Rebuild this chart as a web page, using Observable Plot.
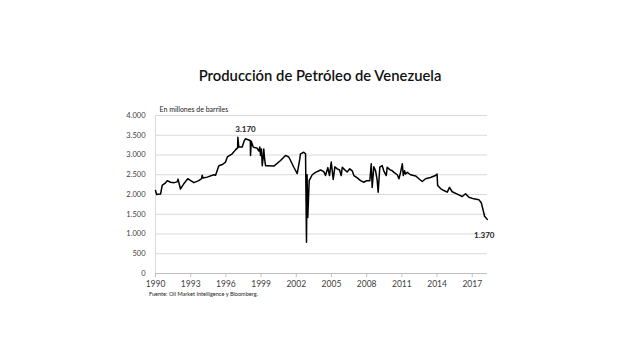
<!DOCTYPE html>
<html><head><meta charset="utf-8">
<script src="https://cdn.jsdelivr.net/npm/d3@7"></script>
<script src="https://cdn.jsdelivr.net/npm/@observablehq/plot@0.6"></script>
<style>
body{margin:0;background:#fff;}
#wrap{width:640px;height:359px;position:relative;font-family:Lato, sans-serif;}
#title{height:100px;box-sizing:border-box;padding-top:64px;text-align:center;font-size:14.8px;font-weight:600;line-height:22px;color:#111;}
#src{padding-left:149px;font-size:5.6px;line-height:12px;height:12px;color:#222;}
</style></head><body>
<div id="wrap"><div id="title">Producción de Petróleo de Venezuela</div><div id="chart"></div><div id="src">Fuente: Oil Market Intelligence y Bloomberg.</div></div>
<script>
const years = [1990.00,1990.10,1990.43,1990.57,1990.80,1991.00,1991.28,1991.60,1991.85,1991.92,1992.13,1992.41,1992.75,1993.00,1993.27,1993.69,1993.93,1993.98,1994.05,1994.41,1994.97,1995.12,1995.40,1995.70,1995.97,1996.12,1996.54,1996.82,1997.00,1997.02,1997.10,1997.39,1997.55,1997.67,1997.95,1998.08,1998.10,1998.16,1998.33,1998.67,1998.81,1998.89,1998.95,1999.03,1999.10,1999.18,1999.23,1999.30,1999.38,1999.52,2000.09,2000.66,2001.08,2001.36,2001.51,2001.79,2002.08,2002.30,2002.36,2002.64,2002.79,2002.87,2002.92,2002.98,2003.10,2003.36,2003.64,2004.07,2004.35,2004.49,2004.69,2004.83,2004.98,2005.15,2005.29,2005.49,2005.69,2005.83,2005.92,2006.11,2006.34,2006.56,2006.77,2006.91,2007.20,2007.48,2007.76,2007.99,2008.27,2008.39,2008.47,2008.61,2008.76,2008.90,2008.98,2009.12,2009.32,2009.46,2009.67,2009.75,2009.97,2010.18,2010.32,2010.61,2010.75,2010.89,2011.04,2011.12,2011.23,2011.31,2011.46,2011.74,2012.17,2012.45,2012.74,2013.02,2013.44,2013.87,2014.00,2014.05,2014.30,2014.58,2014.87,2015.06,2015.29,2015.72,2016.15,2016.43,2016.71,2017.14,2017.56,2017.77,2017.94,2018.05,2018.28];
const barrels = [2100,2000,2010,2230,2280,2350,2310,2300,2320,2390,2140,2270,2400,2350,2300,2350,2400,2490,2420,2440,2500,2490,2730,2760,2820,2950,3030,3130,3180,3450,3200,3200,3350,3410,3380,3360,2990,3350,3200,3170,3100,3200,2990,3150,2730,2950,3150,2900,2730,2730,2720,2860,2990,2950,2860,2690,2530,2900,3030,3070,3030,790,2500,1420,2350,2500,2560,2620,2580,2480,2680,2480,2820,2380,2700,2650,2620,2480,2690,2630,2570,2650,2600,2480,2420,2350,2310,2350,2350,2780,2180,2700,2600,2350,2060,2690,2730,2600,2480,2690,2630,2600,2560,2500,2400,2560,2780,2480,2600,2520,2560,2500,2470,2400,2330,2400,2430,2480,2520,2230,2150,2100,2060,2180,2070,2010,1950,2020,1930,1890,1870,1790,1590,1450,1370];
const yTicks = [0,500,1000,1500,2000,2500,3000,3500,4000];
const xTicks = [1990,1993,1996,1999,2002,2005,2008,2011,2014,2017];
const subtitle = "En millones de barriles";
const noteYears = [1997.67, 2018.28];
const noteLabels = [3170, 1370];

const fmt = d3.formatLocale({decimal:",", thousands:".", grouping:[3], currency:["",""]}).format(",");
const data = years.map((t,i)=>({t, v: barrels[i]}));
const notes = noteYears.map((t,i)=>({t, v: barrels[years.indexOf(t)], label: fmt(noteLabels[i])}));

const chart = Plot.plot({
  width:640, height:188,
  marginTop:15, marginBottom:15, marginLeft:155, marginRight:153,
  style:{fontFamily:"Lato, sans-serif", overflow:"visible", background:"transparent"},
  x:{domain:[1990,2018.3], label:null},
  y:{domain:[0,4000], label:null},
  marks:[
    Plot.gridY(yTicks,{stroke:"#d9d9d9", strokeOpacity:1}),
    Plot.ruleX([years[0]], {stroke:"#d9d9d9"}),
    Plot.ruleY([0], {stroke:"#bfbfbf"}),
    Plot.axisY(yTicks, {tickSize:0, tickPadding:10, tickFormat:d=>fmt(d), fontSize:7.5, fill:"#404040", label:null}),
    Plot.axisX(xTicks, {tickSize:4, tickPadding:3, tickFormat:d=>String(d), stroke:"#bfbfbf", fill:"#404040", fontSize:8.5, label:null}),
    Plot.line(data,{x:"t", y:"v", stroke:"#000", strokeWidth:1.5}),
    Plot.text([notes[0]],{x:"t", y:"v", text:"label", dy:-9, fontSize:8, fontWeight:"bold", fill:"#222"}),
    Plot.text([notes[1]],{x:"t", y:"v", text:"label", dx:-3, dy:16, fontSize:8, fontWeight:"bold", fill:"#222"}),
    Plot.text([subtitle],{frameAnchor:"top-left", text:d=>d, dx:4, dy:-8, textAnchor:"start", fontSize:7, fill:"#222"})
  ]
});
document.getElementById("chart").appendChild(chart);
</script>
</body></html>
